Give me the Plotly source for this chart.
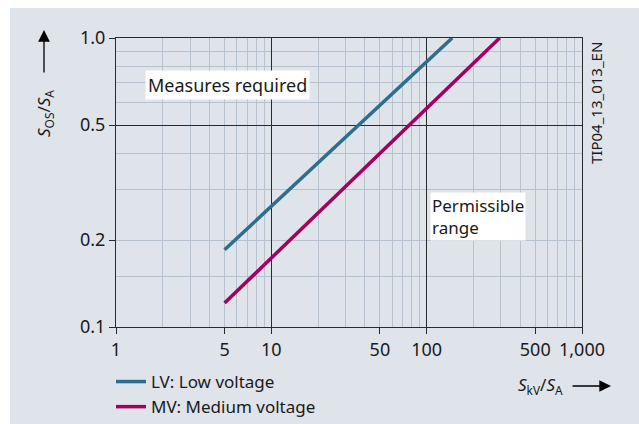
import plotly.graph_objects as go

# Characteristic lines (log-log straight lines between their end points)
lv_x = [5, 146]
lv_y = [0.185, 1.0]
mv_x = [5, 295]
mv_y = [0.121, 1.0]

# Axis ticks and grid
x_tick_vals = [1, 5, 10, 50, 100, 500, 1000]
x_tick_text = ["1", "5", "10", "50", "100", "500", "1,000"]
x_minor_vals = [2, 3, 4, 5, 6, 7, 8, 9, 20, 30, 40, 50, 60, 70, 80, 90,
                200, 300, 400, 500, 600, 700, 800, 900]
x_major_lines = [10, 100]

y_tick_vals = [0.1, 0.2, 0.5, 1.0]
y_tick_text = ["0.1", "0.2", "0.5", "1.0"]
y_minor_vals = [0.15, 0.2, 0.3, 0.4, 0.6, 0.7, 0.8, 0.9]
y_major_lines = [0.5]

FONT = "Noto Sans"
TXT = "#1a1a1a"
BG = "#dfe3ea"
GRID = "#b7c2ce"
DARK = "#2a2a2a"
LV_COL = "#2d6d8e"
MV_COL = "#a3005f"

W, H = 639, 424
L, R, T, B = 116, 57, 38, 97
pw, ph = W - L - R, H - T - B


def px_x(p):
    return (p - L) / pw


def px_y(p):
    return (H - B - p) / ph


fig = go.Figure()
fig.add_trace(go.Scatter(x=lv_x, y=lv_y, mode="lines", name="LV: Low voltage",
                         line=dict(color=LV_COL, width=3.5)))
fig.add_trace(go.Scatter(x=mv_x, y=mv_y, mode="lines", name="MV: Medium voltage",
                         line=dict(color=MV_COL, width=3.5)))
# empty trace that carries the labelled tick axes
fig.add_trace(go.Scatter(x=[], y=[], xaxis="x2", yaxis="y2", showlegend=False,
                         hoverinfo="skip"))

shapes = [
    # grey panel behind the chart
    dict(type="rect", xref="paper", yref="paper",
         x0=px_x(10), x1=px_x(W + 5), y0=px_y(H + 5), y1=px_y(8),
         fillcolor=BG, line=dict(width=0), layer="below"),
]

annotations = [
    dict(text="Measures required", xref="paper", yref="paper",
         x=px_x(227), y=px_y(85), xanchor="center", yanchor="middle", showarrow=False,
         font=dict(family=FONT, size=18, color=TXT), bgcolor="white", borderpad=2),
    dict(text="Permissible<br>range", xref="paper", yref="paper",
         x=px_x(430), y=px_y(217), xanchor="left", yanchor="middle", align="left",
         showarrow=False, font=dict(family=FONT, size=17, color=TXT),
         bgcolor="white", borderpad=1),
    # y axis title with arrow
    dict(text="<i>S</i><sub>OS</sub>/<i>S</i><sub>A</sub>", xref="paper", yref="paper",
         x=px_x(44), y=px_y(114), textangle=-90, showarrow=False,
         xanchor="center", yanchor="middle",
         font=dict(family=FONT, size=17, color=TXT)),
    dict(text="", xref="paper", yref="paper", x=px_x(44), y=px_y(30),
         ax=0, ay=44, showarrow=True, arrowhead=2, arrowsize=1.8, arrowwidth=1.3,
         arrowcolor="black"),
    # x axis title with arrow
    dict(text="<i>S</i><sub>kV</sub>/<i>S</i><sub>A</sub>", xref="paper", yref="paper",
         x=px_x(540), y=px_y(385), showarrow=False, xanchor="center", yanchor="middle",
         font=dict(family=FONT, size=17, color=TXT)),
    dict(text="", xref="paper", yref="paper", x=px_x(611), y=px_y(386),
         ax=-40, ay=0, showarrow=True, arrowhead=2, arrowsize=1.8, arrowwidth=1.3,
         arrowcolor="black"),
    # drawing id
    dict(text="TIP04_13_013_EN", xref="paper", yref="paper",
         x=px_x(596), y=px_y(103), textangle=-90, showarrow=False,
         xanchor="center", yanchor="middle",
         font=dict(family=FONT, size=15, color=TXT)),
]

tick_font = dict(family=FONT, size=18, color=TXT)

fig.update_layout(
    width=W, height=H,
    margin=dict(l=L, r=R, t=T, b=B, pad=0, autoexpand=False),
    paper_bgcolor="white",
    plot_bgcolor="white",
    font=dict(family=FONT, size=18, color=TXT),
    shapes=shapes,
    annotations=annotations,
    showlegend=True,
    legend=dict(x=px_x(111), y=px_y(364), xanchor="left", yanchor="top",
                bgcolor="rgba(0,0,0,0)", font=dict(family=FONT, size=17, color=TXT),
                tracegroupgap=0, itemwidth=30),
    # grid axes: dark decade lines as major grid, light lines as minor grid
    xaxis=dict(
        type="log", range=[0, 3],
        tickmode="array", tickvals=x_major_lines, showticklabels=False, ticks="",
        showgrid=True, gridcolor=DARK, gridwidth=1,
        minor=dict(tickmode="array", tickvals=x_minor_vals, showgrid=True,
                   gridcolor=GRID, gridwidth=1, ticks=""),
        showline=True, linecolor=DARK, linewidth=1, mirror=True, zeroline=False,
    ),
    yaxis=dict(
        type="log", range=[-1, 0],
        tickmode="array", tickvals=y_major_lines, showticklabels=False, ticks="",
        showgrid=True, gridcolor=DARK, gridwidth=1,
        minor=dict(tickmode="array", tickvals=y_minor_vals, showgrid=True,
                   gridcolor=GRID, gridwidth=1, ticks=""),
        showline=True, linecolor=DARK, linewidth=1, mirror=True, zeroline=False,
    ),
    # labelled axes
    xaxis2=dict(
        type="log", range=[0, 3], overlaying="x", anchor="y2", side="bottom",
        tickmode="array", tickvals=x_tick_vals, ticktext=x_tick_text,
        ticks="outside", ticklen=6, tickcolor=DARK, tickwidth=1,
        showgrid=False, showline=False, zeroline=False, tickfont=tick_font,
    ),
    yaxis2=dict(
        type="log", range=[-1, 0], overlaying="y", anchor="x2", side="left",
        tickmode="array", tickvals=y_tick_vals, ticktext=y_tick_text,
        ticks="outside", ticklen=6, tickcolor=DARK, tickwidth=1,
        showgrid=False, showline=False, zeroline=False, tickfont=tick_font,
    ),
)

fig.write_html("out.html")
